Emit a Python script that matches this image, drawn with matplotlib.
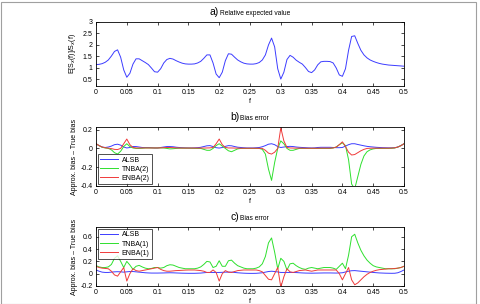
import matplotlib
matplotlib.use("Agg")
import matplotlib.pyplot as plt
from matplotlib.patches import Rectangle

plt.rcParams['font.family'] = ['Liberation Sans', 'DejaVu Sans']

# ---------------- data ----------------
f_grid = [round(i * 0.005, 3) for i in range(101)]

# a) relative expected value
rel_expected = [
    1.13, 1.14, 1.17, 1.23, 1.33, 1.50, 1.70, 1.77, 1.45, 0.90,
    0.58, 0.75, 1.15, 1.38, 1.38, 1.30, 1.22, 1.13, 0.98, 0.82,
    0.80, 0.95, 1.20, 1.35, 1.40, 1.37, 1.30, 1.24, 1.19, 1.16,
    1.15, 1.15, 1.16, 1.20, 1.27, 1.40, 1.55, 1.55, 1.20, 0.72,
    0.56, 0.80, 1.30, 1.60, 1.58, 1.45, 1.33, 1.25, 1.19, 1.16,
    1.15, 1.15, 1.17, 1.22, 1.33, 1.55, 1.98, 2.28, 1.90, 0.95,
    0.50, 0.80, 1.35, 1.53, 1.45, 1.32, 1.23, 1.15, 1.00, 0.83,
    0.78, 0.90, 1.12, 1.25, 1.27, 1.27, 1.26, 1.20, 0.98, 0.68,
    0.62, 0.95, 1.75, 2.35, 2.38, 2.05, 1.75, 1.55, 1.42, 1.33,
    1.27, 1.22, 1.18, 1.15, 1.13, 1.11, 1.10, 1.09, 1.08, 1.07,
    1.06,
]

# b) bias error, order-2 approximations
b_alsb = [
    0.050, 0.030, 0.015, 0.010, 0.015, 0.025, 0.040, 0.045, 0.035, 0.015,
    0.005, 0.010, 0.020, 0.020, 0.015, 0.010, 0.010, 0.010, 0.008, 0.005,
    0.005, 0.010, 0.015, 0.020, 0.020, 0.018, 0.013, 0.010, 0.008, 0.006,
    0.005, 0.005, 0.006, 0.008, 0.012, 0.020, 0.028, 0.030, 0.020, 0.008,
    0.004, 0.010, 0.022, 0.030, 0.028, 0.020, 0.013, 0.010, 0.007, 0.005,
    0.005, 0.005, 0.007, 0.010, 0.018, 0.030, 0.045, 0.050, 0.040, 0.020,
    0.010, 0.015, 0.020, 0.022, 0.020, 0.015, 0.012, 0.010, 0.008, 0.006,
    0.005, 0.006, 0.010, 0.012, 0.012, 0.012, 0.012, 0.010, 0.008, 0.008,
    0.010, 0.025, 0.040, 0.050, 0.050, 0.042, 0.035, 0.028, 0.022, 0.018,
    0.015, 0.012, 0.010, 0.008, 0.007, 0.006, 0.006, 0.008, 0.015, 0.030,
    0.050,
]
b_tnba2 = [
    0.050, 0.030, 0.012, 0.005, 0.000, -0.015, -0.045, -0.060, -0.030, 0.020,
    0.050, 0.020, 0.005, 0.000, 0.000, 0.002, 0.005, 0.005, 0.005, 0.005,
    0.005, 0.006, 0.005, 0.000, -0.005, -0.003, 0.000, 0.002, 0.003, 0.003,
    0.003, 0.002, 0.001, 0.000, 0.000, -0.010, -0.020, -0.020, 0.000, 0.030,
    0.050, 0.025, 0.000, -0.025, -0.035, -0.020, -0.005, 0.000, 0.000, 0.000,
    0.000, 0.000, 0.000, 0.000, -0.010, -0.060, -0.220, -0.340, -0.150, 0.000,
    0.080, 0.050, 0.000, -0.020, -0.020, -0.010, 0.000, 0.000, 0.000, 0.000,
    0.000, 0.000, 0.000, 0.000, 0.000, 0.000, 0.000, 0.005, 0.015, 0.040,
    0.060, 0.030, -0.120, -0.380, -0.430, -0.300, -0.170, -0.080, -0.035, -0.015,
    -0.005, 0.000, 0.000, 0.000, 0.000, 0.000, 0.002, 0.005, 0.015, 0.030,
    0.050,
]
b_enba2 = [
    0.050, 0.030, 0.015, 0.007, 0.003, -0.002, -0.010, -0.012, 0.000, 0.050,
    0.100, 0.040, 0.010, 0.005, 0.005, 0.005, 0.005, 0.005, 0.005, 0.005,
    0.005, 0.006, 0.008, 0.010, 0.010, 0.008, 0.006, 0.005, 0.004, 0.004,
    0.004, 0.004, 0.004, 0.004, 0.004, 0.004, 0.005, 0.006, 0.010, 0.050,
    0.100, 0.040, 0.010, 0.005, 0.005, 0.004, 0.003, 0.002, 0.002, 0.002,
    0.002, 0.002, 0.002, 0.001, 0.000, -0.020, -0.050, -0.060, -0.040, 0.000,
    0.220, 0.080, 0.010, 0.005, 0.004, 0.003, 0.003, 0.003, 0.002, 0.002,
    0.002, 0.002, 0.002, 0.003, 0.003, 0.003, 0.003, 0.005, 0.015, 0.040,
    0.070, 0.020, -0.040, -0.070, -0.065, -0.045, -0.025, -0.010, 0.000, 0.002,
    0.003, 0.003, 0.003, 0.003, 0.003, 0.003, 0.004, 0.006, 0.015, 0.030,
    0.050,
]

# c) bias error, order-1 approximations
c_alsb = [
    0.060, 0.040, 0.025, 0.020, 0.020, 0.025, 0.030, 0.032, 0.030, 0.025,
    0.030, 0.035, 0.035, 0.030, 0.025, 0.020, 0.015, 0.012, 0.010, 0.010,
    0.010, 0.011, 0.012, 0.014, 0.015, 0.014, 0.012, 0.010, 0.008, 0.007,
    0.006, 0.006, 0.006, 0.008, 0.010, 0.015, 0.020, 0.020, 0.020, 0.020,
    0.020, 0.022, 0.025, 0.025, 0.025, 0.020, 0.015, 0.011, 0.008, 0.006,
    0.005, 0.005, 0.006, 0.010, 0.015, 0.025, 0.035, 0.040, 0.035, 0.028,
    0.020, 0.020, 0.020, 0.020, 0.020, 0.018, 0.015, 0.012, 0.010, 0.009,
    0.008, 0.009, 0.010, 0.011, 0.012, 0.012, 0.012, 0.011, 0.010, 0.012,
    0.015, 0.028, 0.040, 0.048, 0.050, 0.045, 0.040, 0.035, 0.030, 0.025,
    0.020, 0.016, 0.012, 0.010, 0.008, 0.007, 0.006, 0.007, 0.015, 0.035,
    0.060,
]
c_tnba1 = [
    0.13, 0.11, 0.10, 0.10, 0.11, 0.15, 0.25, 0.29, 0.20, 0.10,
    0.20, 0.14, 0.07, 0.12, 0.135, 0.11, 0.09, 0.08, 0.085, 0.10,
    0.10, 0.09, 0.10, 0.13, 0.145, 0.14, 0.12, 0.10, 0.09, 0.08,
    0.08, 0.08, 0.08, 0.09, 0.11, 0.15, 0.20, 0.19, 0.10, 0.12,
    0.21, 0.12, 0.12, 0.21, 0.22, 0.17, 0.13, 0.11, 0.09, 0.08,
    0.08, 0.08, 0.09, 0.11, 0.16, 0.28, 0.50, 0.58, 0.35, 0.08,
    0.25, 0.20, 0.06, 0.16, 0.17, 0.13, 0.10, 0.08, 0.07, 0.09,
    0.10, 0.09, 0.08, 0.09, 0.10, 0.10, 0.10, 0.09, 0.07, 0.12,
    0.17, 0.08, 0.30, 0.60, 0.64, 0.50, 0.38, 0.29, 0.22, 0.17,
    0.13, 0.11, 0.10, 0.09, 0.08, 0.08, 0.08, 0.08, 0.09, 0.10,
    0.12,
]
c_enba1 = [
    0.12, 0.10, 0.09, 0.085, 0.08, 0.04, -0.02, -0.04, 0.03, 0.10,
    -0.12, 0.00, 0.08, 0.05, 0.04, 0.05, 0.06, 0.07, 0.08, 0.09,
    0.10, 0.07, 0.05, 0.04, 0.04, 0.045, 0.05, 0.052, 0.055, 0.058,
    0.06, 0.06, 0.06, 0.055, 0.05, 0.04, 0.02, 0.02, 0.06, 0.02,
    -0.12, 0.00, 0.05, 0.025, 0.02, 0.035, 0.05, 0.055, 0.06, 0.06,
    0.06, 0.06, 0.06, 0.05, 0.03, -0.03, -0.09, -0.10, 0.00, 0.10,
    -0.22, -0.05, 0.08, 0.03, 0.02, 0.035, 0.05, 0.055, 0.06, 0.05,
    0.04, 0.05, 0.06, 0.06, 0.06, 0.06, 0.06, 0.06, 0.06, 0.00,
    -0.10, 0.00, 0.10, -0.10, -0.18, -0.15, -0.10, -0.05, -0.01, 0.02,
    0.04, 0.055, 0.065, 0.07, 0.075, 0.08, 0.08, 0.085, 0.09, 0.10,
    0.12,
]

x_ticks = [0, 0.05, 0.1, 0.15, 0.2, 0.25, 0.3, 0.35, 0.4, 0.45, 0.5]
x_ticklabels = ['0', '0.05', '0.1', '0.15', '0.2', '0.25', '0.3', '0.35', '0.4', '0.45', '0.5']
a_yticks = [0.5, 1, 1.5, 2, 2.5, 3]
a_yticklabels = ['0.5', '1', '1.5', '2', '2.5', '3']
b_yticks = [-0.4, -0.2, 0, 0.2]
b_yticklabels = ['-0.4', '-0.2', '0', '0.2']
c_yticks = [-0.2, 0, 0.2, 0.4, 0.6]
c_yticklabels = ['-0.2', '0', '0.2', '0.4', '0.6']

# ---------------- figure ----------------
W, H = 481, 304
fig = plt.figure(figsize=(W / 100, H / 100), dpi=100)
fig.patches.append(Rectangle((0.5 / W, 0.5 / H), 476 / W, 302 / H,
                             transform=fig.transFigure, fill=False,
                             edgecolor='#a0a0a0', linewidth=0.8))

BLUE = '#3c3cff'
GREEN = '#2ee02e'
RED = '#f03a3a'
LW = 0.7
FS = 5
AX_L, AX_R = 96, 404


def make_axes(top_px, bot_px):
    return fig.add_axes([AX_L / W, 1 - bot_px / H, (AX_R - AX_L) / W, (bot_px - top_px) / H])


def style(ax, yticks, yticklabels, ylim):
    ax.set_xlim(0, 0.5)
    ax.set_ylim(*ylim)
    ax.set_xticks(x_ticks)
    ax.set_xticklabels(x_ticklabels)
    ax.set_yticks(yticks)
    ax.set_yticklabels(yticklabels)
    ax.tick_params(direction='in', length=2.2, width=0.5, labelsize=FS, pad=2.5,
                   top=True, right=True)
    for s in ax.spines.values():
        s.set_linewidth(0.6)
    ax.set_xlabel('f', fontsize=FS, labelpad=0.8)


def title(ax, junction_px, letter, text):
    jx = (junction_px - AX_L) / (AX_R - AX_L)
    ax.annotate(letter, xy=(jx, 1), xycoords='axes fraction', xytext=(-0.3, 3.5),
                textcoords='offset points', ha='right', va='bottom', fontsize=7.5)
    ax.annotate(text, xy=(jx, 1), xycoords='axes fraction', xytext=(0.4, 3.5),
                textcoords='offset points', ha='left', va='bottom', fontsize=4.8)


# a)
ax1 = make_axes(21.5, 86)
ax1.plot(f_grid, rel_expected, color=BLUE, lw=LW)
style(ax1, a_yticks, a_yticklabels, (0.2, 3))
ax1.set_ylabel(r'E[S$_x$(f)]/S$_x$(f)', fontsize=FS, labelpad=3)
title(ax1, 219.5, 'a)', 'Relative expected value')

# b)
ax2 = make_axes(127.3, 186)
ax2.plot(f_grid, b_alsb, color=BLUE, lw=LW, label='ALSB')
ax2.plot(f_grid, b_tnba2, color=GREEN, lw=LW, label='TNBA(2)')
ax2.plot(f_grid, b_enba2, color=RED, lw=LW, label='ENBA(2)')
style(ax2, b_yticks, b_yticklabels, (-0.4, 0.225))
ax2.set_ylabel('Approx. bias \u2013 True bias', fontsize=FS, labelpad=2)
title(ax2, 239.5, 'b)', 'Bias error')
leg = ax2.legend(loc='lower left', fontsize=FS, frameon=True, fancybox=False,
                 edgecolor='black', borderaxespad=0.25, handlelength=2.6,
                 handletextpad=0.5, labelspacing=0.3, borderpad=0.35)
leg.get_frame().set_linewidth(0.6)

# c)
ax3 = make_axes(227.3, 286)
ax3.plot(f_grid, c_alsb, color=BLUE, lw=LW, label='ALSB')
ax3.plot(f_grid, c_tnba1, color=GREEN, lw=LW, label='TNBA(1)')
ax3.plot(f_grid, c_enba1, color=RED, lw=LW, label='ENBA(1)')
style(ax3, c_yticks, c_yticklabels, (-0.2, 0.753))
ax3.set_ylabel('Approx. bias \u2013 True bias', fontsize=FS, labelpad=2)
title(ax3, 239.5, 'c)', 'Bias error')
leg = ax3.legend(loc='upper left', fontsize=FS, frameon=True, fancybox=False,
                 edgecolor='black', borderaxespad=0.25, handlelength=2.6,
                 handletextpad=0.5, labelspacing=0.3, borderpad=0.35)
leg.get_frame().set_linewidth(0.6)

fig.savefig('out.png', dpi=100)
